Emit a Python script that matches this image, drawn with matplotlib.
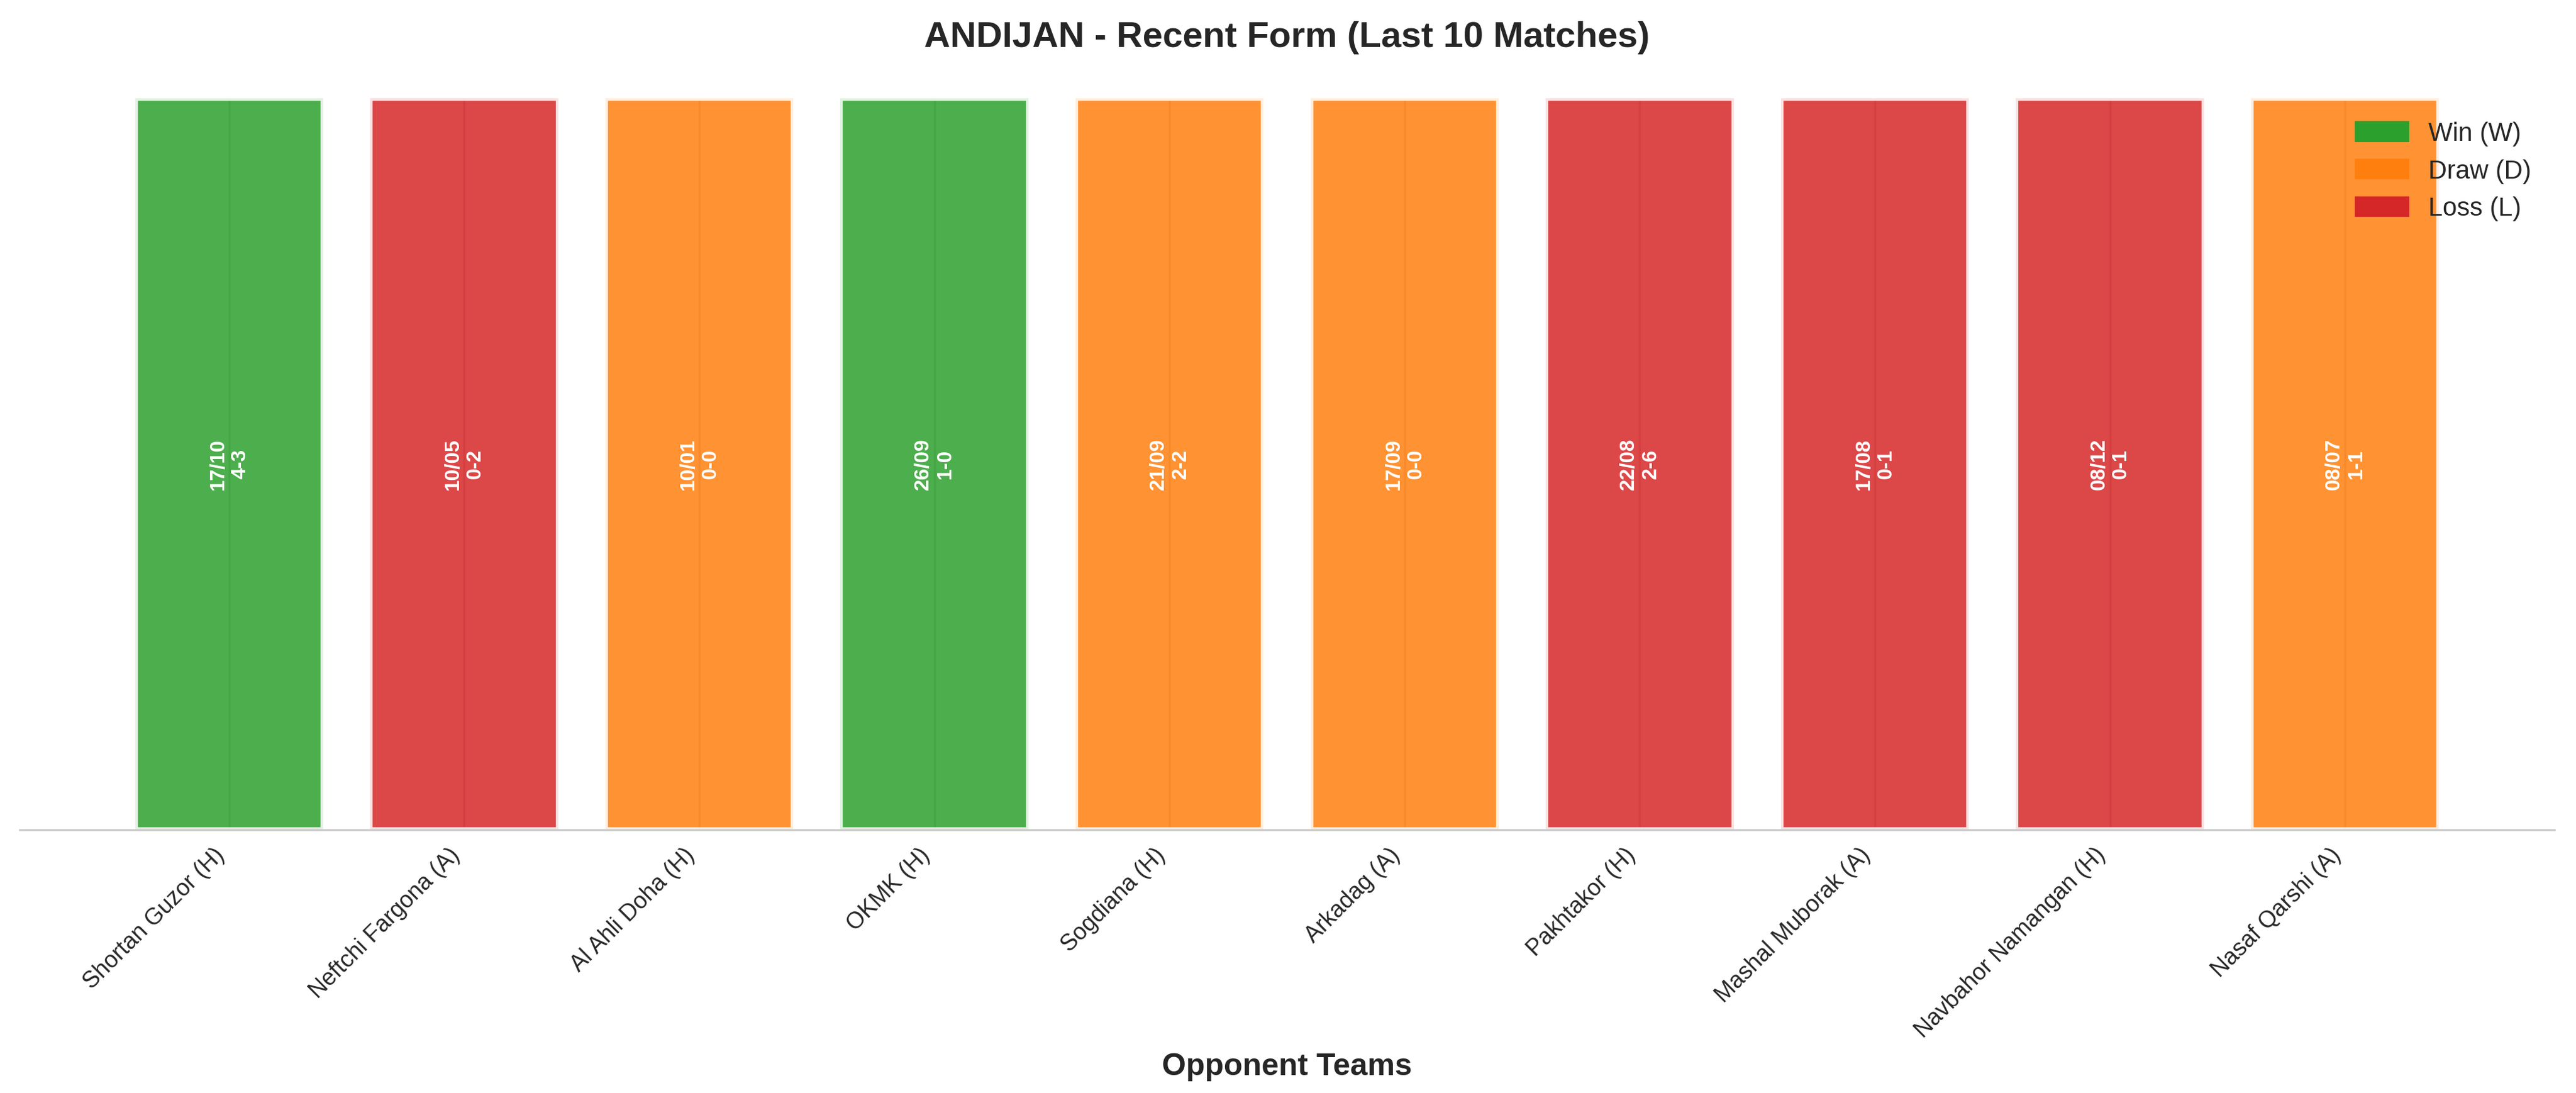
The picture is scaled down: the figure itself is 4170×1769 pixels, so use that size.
import matplotlib
matplotlib.use('Agg')
from matplotlib import pyplot as plt
from matplotlib.patches import Patch
import seaborn as sns

opponents = ['Shortan Guzor (H)', 'Neftchi Fargona (A)', 'Al Ahli Doha (H)', 'OKMK (H)',
             'Sogdiana (H)', 'Arkadag (A)', 'Pakhtakor (H)', 'Mashal Muborak (A)',
             'Navbahor Namangan (H)', 'Nasaf Qarshi (A)']
results = ['W', 'L', 'D', 'W', 'D', 'D', 'L', 'L', 'L', 'D']
dates = ['17/10', '10/05', '10/01', '26/09', '21/09', '17/09', '22/08', '17/08', '08/12', '08/07']
scores = ['4-3', '0-2', '0-0', '1-0', '2-2', '0-0', '2-6', '0-1', '0-1', '1-1']
heights = [1] * len(opponents)

colors = {'W': '#2ca02c', 'D': '#ff7f0e', 'L': '#d62728'}
names = {'W': 'Win (W)', 'D': 'Draw (D)', 'L': 'Loss (L)'}

sns.set_style('whitegrid')
plt.rcParams['font.family'] = ['Liberation Sans', 'DejaVu Sans']

fig, ax = plt.subplots(figsize = (13.9, 5.897), dpi = 300)
fig.subplots_adjust(left = 0.0077, right = 0.9916, bottom = 0.241, top = 0.91)

x = range(len(opponents))
bars = ax.bar(x, heights, width = 0.8, color = [colors[r] for r in results],
              alpha = 0.85, edgecolor = 'white', linewidth = 2)

for i, b in enumerate(bars):
    ax.text(b.get_x() + b.get_width() / 2, b.get_height() / 2, f'{dates[i]}\n{scores[i]}',
            ha = 'center', va = 'center', rotation = 90, color = 'white',
            fontsize = 8, fontweight = 'bold')

ax.set_ylim(0, 1)
ax.set_xticks(list(x))
ax.set_xticklabels(opponents, rotation = 45, ha = 'right', fontsize = 9)
ax.tick_params(axis = 'x', pad = 2)
ax.set_yticks([])
ax.set_xlabel('Opponent Teams', fontsize = 12, fontweight = 'bold')
ax.set_title('ANDIJAN - Recent Form (Last 10 Matches)', fontsize = 14, fontweight = 'bold', pad = 20)

for s in ['top', 'right', 'left']:
    ax.spines[s].set_visible(False)
ax.spines['bottom'].set_color('#cccccc')

handles = [Patch(color = colors[k], label = names[k]) for k in ['W', 'D', 'L']]
ax.legend(handles = handles, loc = 'upper right', frameon = False, fontsize = 10)

fig.savefig('out.png', dpi = 300)
